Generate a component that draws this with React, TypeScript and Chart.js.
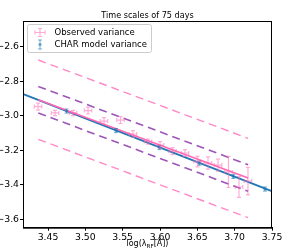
import React, { useEffect, useRef } from "react";
import { Chart, registerables } from "chart.js";

Chart.register(...registerables);

// Observed variance points (log wavelength, log variance) with errors
const obsX = [3.4366, 3.4594, 3.4835, 3.5036, 3.525, 3.5471, 3.5638, 3.5839, 3.6, 3.6167, 3.6335, 3.6502, 3.6643, 3.6777, 3.6917, 3.7058, 3.7178];
const obsY = [-2.947, -2.984, -2.984, -2.97, -3.031, -3.025, -3.106, -3.15, -3.17, -3.205, -3.216, -3.266, -3.274, -3.286, -3.326, -3.413, -3.379];
const obsXErr = [0.005, 0.005, 0.005, 0.005, 0.005, 0.005, 0.005, 0.005, 0.005, 0.005, 0.005, 0.005, 0.005, 0.005, 0.005, 0.005, 0.005];
const obsYErr = [0.02, 0.015, 0.015, 0.02, 0.02, 0.02, 0.02, 0.015, 0.02, 0.02, 0.02, 0.03, 0.035, 0.035, 0.09, 0.06, 0.08];

// CHAR model variance points
const modelX = [3.4748, 3.5411, 3.5993, 3.6526, 3.6982, 3.7406];
const modelY = [-2.973, -3.086, -3.184, -3.275, -3.352, -3.425];
const modelYErr = [0.012, 0.012, 0.012, 0.012, 0.012, 0.012];

// Fit lines
const charFitX = [3.4, 3.77];
const charFitY = [-2.846, -3.471];
const obsFitX = [3.437, 3.718];
const obsFitY = [-2.907, -3.361];
const purpleUpperY = [-2.83, -3.284];
const purpleLowerY = [-2.984, -3.438];
const pinkUpperY = [-2.677, -3.131];
const pinkLowerY = [-3.137, -3.591];

// Axes
const xTicks = [3.45, 3.5, 3.55, 3.6, 3.65, 3.7, 3.75];
const yTicks = [-3.6, -3.4, -3.2, -3.0, -2.8, -2.6];
const xRange = [3.4165, 3.75];
const yRange = [-3.649, -2.451];

const titleText = "Time scales of 75 days";
const legendLabels = ["Observed variance", "CHAR model variance"];

const PINK = "rgba(255,105,180,0.55)";
const PINK_LINE = "#ff69b4";
const PINK_DASH = "#ff88c8";
const PURPLE = "#9d55b8";
const BLUE = "#1f77b4";
const BLUE_PT = "rgba(31,119,180,0.6)";
const FONT = "'DejaVu Sans', sans-serif";

const pts = (xs: number[], ys: number[]) => xs.map((x, i) => ({ x, y: ys[i] }));

const errorBarPlugin = {
  id: "errorBars",
  afterDatasetsDraw(chart: any) {
    const { ctx, chartArea, scales } = chart;
    const xs = scales.x;
    const ys = scales.y;
    ctx.save();
    ctx.beginPath();
    ctx.rect(chartArea.left, chartArea.top, chartArea.right - chartArea.left, chartArea.bottom - chartArea.top);
    ctx.clip();
    // model points
    ctx.strokeStyle = BLUE_PT;
    ctx.fillStyle = BLUE_PT;
    ctx.lineWidth = 1;
    modelX.forEach((x, i) => {
      const px = xs.getPixelForValue(x);
      const py = ys.getPixelForValue(modelY[i]);
      const y1 = ys.getPixelForValue(modelY[i] + modelYErr[i]);
      const y2 = ys.getPixelForValue(modelY[i] - modelYErr[i]);
      ctx.beginPath();
      ctx.moveTo(px, y1); ctx.lineTo(px, y2);
      ctx.moveTo(px - 2, y1); ctx.lineTo(px + 2, y1);
      ctx.moveTo(px - 2, y2); ctx.lineTo(px + 2, y2);
      ctx.stroke();
      ctx.beginPath();
      ctx.arc(px, py, 1.6, 0, Math.PI * 2);
      ctx.fill();
    });
    // observed points
    ctx.strokeStyle = PINK;
    ctx.lineWidth = 1.2;
    obsX.forEach((x, i) => {
      const px = xs.getPixelForValue(x);
      const py = ys.getPixelForValue(obsY[i]);
      const x1 = xs.getPixelForValue(x - obsXErr[i]);
      const x2 = xs.getPixelForValue(x + obsXErr[i]);
      const y1 = ys.getPixelForValue(obsY[i] + obsYErr[i]);
      const y2 = ys.getPixelForValue(obsY[i] - obsYErr[i]);
      ctx.beginPath();
      ctx.moveTo(x1, py); ctx.lineTo(x2, py);
      ctx.moveTo(px, y1); ctx.lineTo(px, y2);
      ctx.moveTo(x1, py - 2); ctx.lineTo(x1, py + 2);
      ctx.moveTo(x2, py - 2); ctx.lineTo(x2, py + 2);
      ctx.moveTo(px - 2, y1); ctx.lineTo(px + 2, y1);
      ctx.moveTo(px - 2, y2); ctx.lineTo(px + 2, y2);
      ctx.stroke();
    });
    ctx.restore();
  },
};

const decorPlugin = {
  id: "decor",
  afterDraw(chart: any) {
    const { ctx, chartArea } = chart;
    const { left, right, top, bottom } = chartArea;
    ctx.save();
    // frame
    ctx.strokeStyle = "#000";
    ctx.lineWidth = 1;
    ctx.strokeRect(left + 0.5, top + 0.5, right - left - 1, bottom - top);
    // title
    ctx.fillStyle = "#000";
    ctx.font = `8.1px ${FONT}`;
    ctx.textAlign = "center";
    ctx.textBaseline = "alphabetic";
    ctx.fillText(titleText, (left + right) / 2, 18);
    // x label with subscript
    const main1 = "log(λ";
    const sub = "RF";
    const main2 = "[Å])";
    ctx.font = `8px ${FONT}`;
    const w1 = ctx.measureText(main1).width;
    const w3 = ctx.measureText(main2).width;
    ctx.font = `5.6px ${FONT}`;
    const w2 = ctx.measureText(sub).width;
    const total = w1 + w2 + w3;
    let sx = (left + right) / 2 - total / 2;
    const by = 246;
    ctx.textAlign = "left";
    ctx.font = `8px ${FONT}`;
    ctx.fillText(main1, sx, by);
    sx += w1;
    ctx.font = `5.6px ${FONT}`;
    ctx.fillText(sub, sx, by + 1.8);
    sx += w2;
    ctx.font = `8px ${FONT}`;
    ctx.fillText(main2, sx, by);
    // legend
    const lx = 27.5, ly = 24.5, lw = 124, lh = 28;
    ctx.fillStyle = "rgba(255,255,255,0.8)";
    ctx.strokeStyle = "#cccccc";
    ctx.lineWidth = 1;
    ctx.beginPath();
    (ctx as any).roundRect(lx, ly, lw, lh, 2);
    ctx.fill();
    ctx.stroke();
    // entry 1 marker (pink cross)
    const mx = 40;
    const e1 = 32.5, e2 = 44.5;
    ctx.strokeStyle = PINK;
    ctx.lineWidth = 1.2;
    ctx.beginPath();
    ctx.moveTo(mx - 5, e1); ctx.lineTo(mx + 5, e1);
    ctx.moveTo(mx, e1 - 4); ctx.lineTo(mx, e1 + 4);
    ctx.moveTo(mx - 5, e1 - 2); ctx.lineTo(mx - 5, e1 + 2);
    ctx.moveTo(mx + 5, e1 - 2); ctx.lineTo(mx + 5, e1 + 2);
    ctx.moveTo(mx - 2, e1 - 4); ctx.lineTo(mx + 2, e1 - 4);
    ctx.moveTo(mx - 2, e1 + 4); ctx.lineTo(mx + 2, e1 + 4);
    ctx.stroke();
    // entry 2 marker (blue errorbar)
    ctx.strokeStyle = BLUE_PT;
    ctx.fillStyle = BLUE_PT;
    ctx.lineWidth = 1;
    ctx.beginPath();
    ctx.moveTo(mx, e2 - 4.5); ctx.lineTo(mx, e2 + 4.5);
    ctx.moveTo(mx - 2, e2 - 4.5); ctx.lineTo(mx + 2, e2 - 4.5);
    ctx.moveTo(mx - 2, e2 + 4.5); ctx.lineTo(mx + 2, e2 + 4.5);
    ctx.stroke();
    ctx.beginPath();
    ctx.arc(mx, e2, 1.6, 0, Math.PI * 2);
    ctx.fill();
    // legend texts
    ctx.fillStyle = "#000";
    ctx.font = `8.5px ${FONT}`;
    ctx.textBaseline = "middle";
    ctx.fillText(legendLabels[0], 54.5, e1);
    ctx.fillText(legendLabels[1], 54.5, e2);
    ctx.restore();
  },
};

export default function App() {
  const ref = useRef<HTMLCanvasElement | null>(null);
  useEffect(() => {
    document.body.style.margin = "0";
    if (!ref.current) return;
    const lineDs = (data: any[], color: string, width: number, dash: number[]) => ({
      type: "scatter" as const,
      data,
      showLine: true,
      borderColor: color,
      backgroundColor: color,
      borderWidth: width,
      borderDash: dash,
      pointRadius: 0,
      fill: false,
    });
    const chart = new Chart(ref.current, {
      type: "scatter",
      data: {
        datasets: [
          lineDs(pts(obsFitX, pinkUpperY), PINK_DASH, 1.4, [8, 5]),
          lineDs(pts(obsFitX, pinkLowerY), PINK_DASH, 1.4, [8, 5]),
          lineDs(pts(obsFitX, purpleUpperY), PURPLE, 1.6, [8, 5]),
          lineDs(pts(obsFitX, purpleLowerY), PURPLE, 1.6, [8, 5]),
          lineDs(pts(obsFitX, obsFitY), PINK_LINE, 1.6, []),
          lineDs(pts(charFitX, charFitY), BLUE, 1.8, []),
        ] as any,
      },
      options: {
        animation: false,
        responsive: true,
        maintainAspectRatio: false,
        layout: { padding: { left: 0, right: 21, top: 21, bottom: 0 } },
        plugins: { legend: { display: false }, tooltip: { enabled: false }, title: { display: false } },
        scales: {
          x: {
            type: "linear",
            min: xRange[0],
            max: xRange[1],
            afterBuildTicks: (s: any) => { s.ticks = xTicks.map((v) => ({ value: v })); },
            afterFit: (s: any) => { s.height = 22.3; },
            ticks: {
              color: "#000",
              font: { family: FONT, size: 9.3 },
              padding: 1,
              maxRotation: 0,
              autoSkip: false,
              callback: (v: any) => Number(v).toFixed(2),
            },
            grid: { drawOnChartArea: false, drawTicks: true, tickLength: 3, color: "#000" },
            border: { display: true, color: "#000", width: 1 },
          },
          y: {
            type: "linear",
            min: yRange[0],
            max: yRange[1],
            afterBuildTicks: (s: any) => { s.ticks = yTicks.map((v) => ({ value: v })); },
            afterFit: (s: any) => { s.width = 23; },
            ticks: {
              color: "#000",
              font: { family: FONT, size: 9.3 },
              padding: 1,
              autoSkip: false,
              callback: (v: any) => {
                const n = Number(v);
                const s = Math.abs(n).toFixed(1);
                return n < 0 ? "\u2212" + s : s;
              },
            },
            grid: { drawOnChartArea: false, drawTicks: true, tickLength: 3, color: "#000" },
            border: { display: true, color: "#000", width: 1 },
          },
        },
      },
      plugins: [errorBarPlugin, decorPlugin],
    });
    return () => chart.destroy();
  }, []);
  return (
    <div style={{ width: 293, height: 250, position: "relative" }}>
      <canvas ref={ref} />
    </div>
  );
}
